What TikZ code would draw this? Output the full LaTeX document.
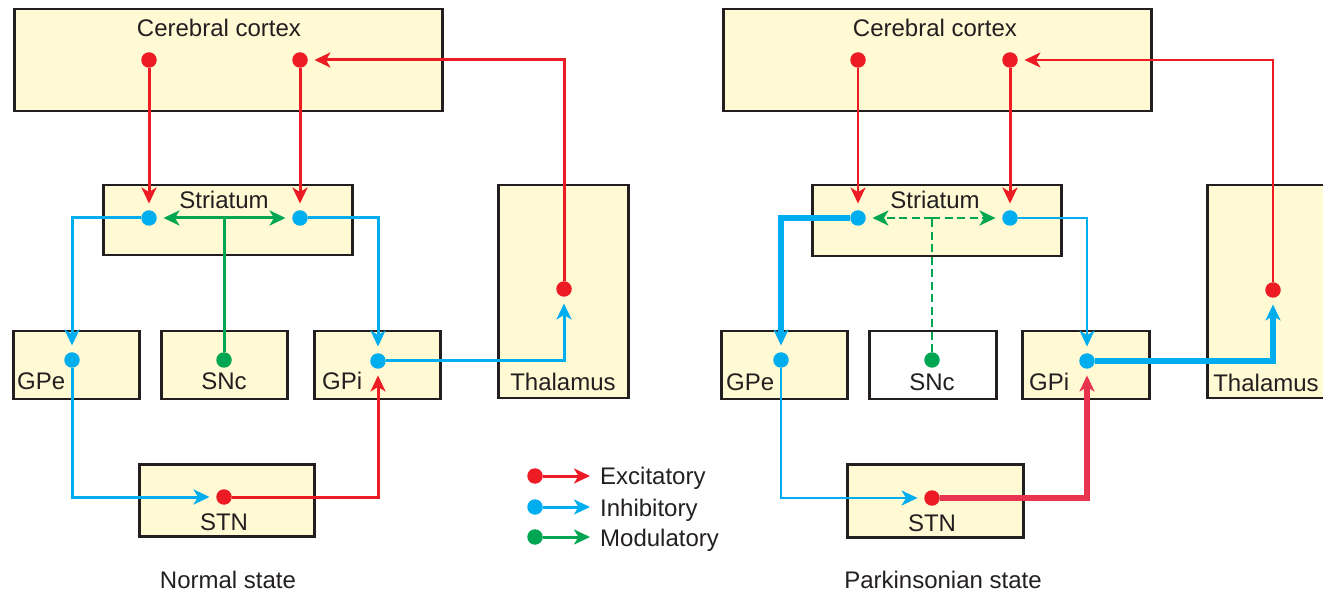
\documentclass[tikz,border=0pt]{standalone}
\usepackage{fontspec}
\setmainfont{Liberation Sans}
\usetikzlibrary{arrows.meta}
\definecolor{exc}{HTML}{ED1C24}
\definecolor{excthick}{HTML}{E8344E}
\definecolor{inh}{HTML}{00AEEF}
\definecolor{mod}{HTML}{00A651}
\definecolor{boxfill}{HTML}{FFF9D4}
\definecolor{ink}{HTML}{231F20}
\begin{document}
\begin{tikzpicture}[x=1pt,y=-1pt,
  region/.style={draw=ink, line width=2.5pt, fill=boxfill, inner sep=0pt, anchor=north west},
  lbl/.style={text=ink, font=\fontsize{24}{28}\selectfont, inner sep=0pt, anchor=base},
  dot/.style={circle, inner sep=0pt, minimum size=15.5pt, fill=#1},
  tip/.style={-{Stealth[length=16pt,width=15pt,inset=4.5pt]}},
  conn/.style={tip, line width=3pt, draw=#1, shorten >=6.5pt},
  thin/.style={line width=2pt},
  thick/.style={line width=5.5pt},
  dashline/.style={dash pattern=on 8pt off 4.5pt}
]
\useasboundingbox (0,0) rectangle (1323,593);
\clip (0,0) rectangle (1323,593);

% ---------------- Normal state ----------------
\node[region, minimum width=428pt, minimum height=102pt] (cxL) at (13,8) {};
\node[region, minimum width=249pt, minimum height=70pt] (stL) at (102,184) {};
\node[region, minimum width=130pt, minimum height=213pt] (thL) at (497,184) {};
\node[region, minimum width=126pt, minimum height=68pt] (geL) at (12,330) {};
\node[region, minimum width=126pt, minimum height=68pt] (snL) at (160,330) {};
\node[region, minimum width=126pt, minimum height=68pt] (giL) at (313,330) {};
\node[region, minimum width=175pt, minimum height=72pt] (sdL) at (138,463) {};

\node[lbl] (cxLt) at (219,37) {Cerebral cortex};
\node[lbl] (stLt) at (224,209) {Striatum};
\node[lbl] (thLt) at (563,391) {Thalamus};
\node[lbl, anchor=base west] (geLt) at (17,390) {GPe};
\node[lbl] (snLt) at (224,390) {SNc};
\node[lbl, anchor=base west] (giLt) at (322,390) {GPi};
\node[lbl] (sdLt) at (224,530) {STN};
\node[lbl] (capL) at (228,588) {Normal state};

\node[dot=exc] (cx1L) at (149,60) {};
\node[dot=exc] (cx2L) at (300,60) {};
\node[dot=inh] (st1L) at (149,218) {};
\node[dot=inh] (st2L) at (300,218) {};
\node[dot=inh] (geLd) at (72,360) {};
\node[dot=mod] (snLd) at (224,360) {};
\node[dot=inh] (giLd) at (378,361) {};
\node[dot=exc] (thLd) at (564,289) {};
\node[dot=exc] (sdLd) at (224,497) {};
\coordinate (gjL) at (224,218);

\draw[conn=exc] (cx1L) -- (st1L);
\draw[conn=exc] (cx2L) -- (st2L);
\draw[conn=inh] (st1L) -| (geLd);
\draw[conn=inh] (st2L) -| (giLd);
\draw[line width=3pt, draw=mod] (snLd) -- (gjL);
\draw[conn=mod] (gjL) -- (st1L);
\draw[conn=mod] (gjL) -- (st2L);
\draw[conn=inh] (geLd) |- (sdLd);
\draw[conn=exc] (sdLd) -| (giLd);
\draw[conn=inh] (giLd) -| (thLd);
\draw[conn=exc] (thLd) |- (cx2L);

% ---------------- Legend ----------------
\node[dot=exc] (lg1) at (535,476) {};
\node[dot=inh] (lg2) at (535,507) {};
\node[dot=mod] (lg3) at (535,537) {};
\coordinate (lg1e) at (590,476);
\coordinate (lg2e) at (590,507);
\coordinate (lg3e) at (590,537);
\draw[tip, line width=3pt, exc] (lg1) -- (lg1e);
\draw[tip, line width=3pt, inh] (lg2) -- (lg2e);
\draw[tip, line width=3pt, mod] (lg3) -- (lg3e);
\node[lbl, anchor=base west] (lg1t) at (600,485) {Excitatory};
\node[lbl, anchor=base west] (lg2t) at (600,516) {Inhibitory};
\node[lbl, anchor=base west] (lg3t) at (600,546) {Modulatory};

% ---------------- Parkinsonian state ----------------
\node[region, minimum width=428pt, minimum height=102pt] (cxR) at (722,8) {};
\node[region, minimum width=249pt, minimum height=71pt] (stR) at (811,184) {};
\node[region, minimum width=130pt, minimum height=213pt] (thR) at (1206,184) {};
\node[region, minimum width=126pt, minimum height=68pt] (geR) at (720,330) {};
\node[region, fill=white, minimum width=127pt, minimum height=68pt] (snR) at (868,330) {};
\node[region, minimum width=127pt, minimum height=68pt] (giR) at (1021,330) {};
\node[region, minimum width=176pt, minimum height=73pt] (sdR) at (846,463) {};

\node[lbl] (cxRt) at (935,37) {Cerebral cortex};
\node[lbl] (stRt) at (935,209) {Striatum};
\node[lbl] (thRt) at (1266,392) {Thalamus};
\node[lbl, anchor=base west] (geRt) at (726,391) {GPe};
\node[lbl] (snRt) at (932,391) {SNc};
\node[lbl, anchor=base west] (giRt) at (1029,391) {GPi};
\node[lbl] (sdRt) at (932,531) {STN};
\node[lbl] (capR) at (943,588) {Parkinsonian state};

\node[dot=exc] (cx1R) at (858,60) {};
\node[dot=exc] (cx2R) at (1010,60) {};
\node[dot=inh] (st1R) at (858,218) {};
\node[dot=inh] (st2R) at (1010,218) {};
\node[dot=inh] (geRd) at (781,360) {};
\node[dot=mod] (snRd) at (932,360) {};
\node[dot=inh] (giRd) at (1087,361) {};
\node[dot=exc] (thRd) at (1273,290) {};
\node[dot=exc] (sdRd) at (932,498) {};
\coordinate (gjR) at (932,218);

\draw[conn=exc, thin] (cx1R) -- (st1R);
\draw[conn=exc] (cx2R) -- (st2R);
\draw[conn=inh, thick] (st1R) -| (geRd);
\draw[conn=inh, thin] (st2R) -| (giRd);
\draw[line width=2.8pt, draw=mod, dashline] (snRd) -- (gjR);
\draw[conn=mod, line width=2.8pt, dashline] (gjR) -- (st1R);
\draw[conn=mod, line width=2.8pt, dashline] (gjR) -- (st2R);
\draw[conn=inh, thin] (geRd) |- (sdRd);
\draw[conn=excthick, thick] (sdRd) -| (giRd);
\draw[conn=inh, thick] (giRd) -| (thRd);
\draw[conn=exc, thin] (thRd) |- (cx2R);
\end{tikzpicture}
\end{document}
